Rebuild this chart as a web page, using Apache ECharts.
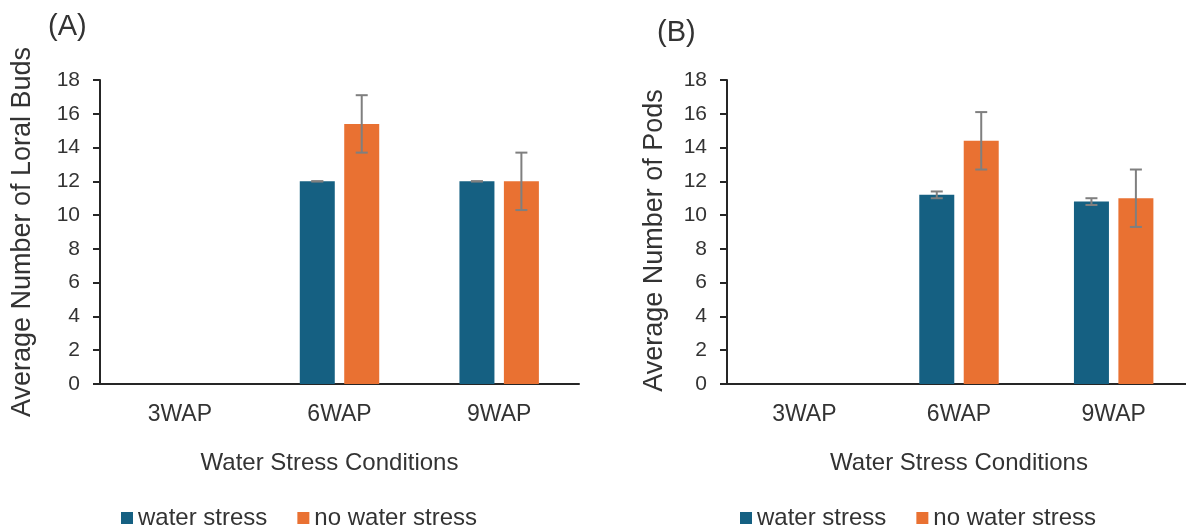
<!DOCTYPE html>
<html>
<head>
<meta charset="utf-8">
<script src="https://cdn.jsdelivr.net/npm/echarts@6/dist/echarts.min.js"></script>
<style>
html,body{margin:0;padding:0;background:#fff;}
#c{width:1186px;height:529px;}
</style>
</head>
<body>
<div id="c"></div>
<script>
// ---- data ----
const categories = ['3WAP', '6WAP', '9WAP'];
const seriesNames = ['water stress', 'no water stress'];
// Panel A: Average Number of Loral Buds
const budsStress = [0, 12, 12];
const budsStressErr = [0, 0, 0];
const budsNoStress = [0, 15.4, 12];
const budsNoStressErr = [0, 1.7, 1.7];
// Panel B: Average Number of Pods
const podsStress = [0, 11.2, 10.8];
const podsStressErr = [0, 0.2, 0.2];
const podsNoStress = [0, 14.4, 11.0];
const podsNoStressErr = [0, 1.7, 1.7];
const yMin = 0, yMax = 18, yInterval = 2;

// ---- style ----
const FONT = '"Liberation Sans", Arial, sans-serif';
const TXT = '#333333';
const AX = '#262626';
const BLUE = '#156082';
const ORANGE = '#E97132';
const ERR = '#7f7f7f';
const BAR_W = 35;
const BAR_GAP = 0.27;
const OFFSET = (BAR_W + BAR_W * BAR_GAP) / 2;

function errRenderer(offset) {
  return function (params, api) {
    const xi = api.value(0), v = api.value(1), e = api.value(2);
    if (!v && !e) return;
    const x = api.coord([xi, v])[0] + offset;
    const top = api.coord([xi, v + e])[1];
    const bot = api.coord([xi, v - e])[1];
    const hw = 6;
    const style = { stroke: ERR, lineWidth: 2 };
    return {
      type: 'group',
      children: [
        { type: 'line', shape: { x1: x, y1: top, x2: x, y2: bot }, style },
        { type: 'line', shape: { x1: x - hw, y1: top, x2: x + hw, y2: top }, style },
        { type: 'line', shape: { x1: x - hw, y1: bot, x2: x + hw, y2: bot }, style }
      ]
    };
  };
}
function errData(vals, errs) { return vals.map((v, i) => [i, v, errs[i]]); }

function xAxisCfg(gi, padRight) {
  return {
    type: 'category', gridIndex: gi, data: categories,
    axisLine: { lineStyle: { color: AX, width: 2 } },
    axisTick: { alignWithLabel: true, length: 6, lineStyle: { color: AX, width: 2 } },
    axisLabel: { fontSize: 23, color: TXT, fontFamily: FONT, margin: 19, interval: 0 },
    name: 'Water Stress Conditions', nameLocation: 'middle', nameGap: 67,
    nameTextStyle: { fontSize: 24, color: TXT, fontFamily: FONT, padding: [0, padRight, 0, 0] }
  };
}
function yAxisCfg(gi, name, gap, padRight) {
  return {
    type: 'value', gridIndex: gi, min: yMin, max: yMax, interval: yInterval,
    splitLine: { show: false },
    axisLine: { show: true, lineStyle: { color: AX, width: 2 } },
    axisTick: { show: true, length: 7, lineStyle: { color: AX, width: 2 } },
    axisLabel: { fontSize: 21, color: TXT, fontFamily: FONT, margin: 20 },
    name: name, nameLocation: 'middle', nameGap: gap, nameRotate: 90, nameMoveOverlap: false,
    nameTextStyle: { fontSize: 27, color: TXT, fontFamily: FONT, padding: [0, padRight, 0, 0] }
  };
}
function barSeries(name, gi, data, color) {
  return {
    type: 'bar', name, xAxisIndex: gi, yAxisIndex: gi, data,
    barWidth: BAR_W, barGap: (BAR_GAP * 100) + '%',
    itemStyle: { color }, animation: false
  };
}
function errSeries(gi, vals, errs, offset) {
  return {
    type: 'custom', name: 'err' + gi + offset, xAxisIndex: gi, yAxisIndex: gi,
    data: errData(vals, errs), renderItem: errRenderer(offset), z: 5,
    encode: { x: 0, y: 1 }, animation: false, silent: true
  };
}

const legendBase = {
  data: seriesNames, orient: 'horizontal', top: 506, padding: 0,
  icon: 'rect', itemWidth: 12, itemHeight: 12, itemGap: 30,
  textStyle: { fontSize: 24, color: TXT, fontFamily: FONT }
};

const option = {
  backgroundColor: '#ffffff',
  animation: false,
  textStyle: { fontFamily: FONT },
  title: [
    { text: '(A)', left: 48, top: 12, padding: 0, textStyle: { fontSize: 29, fontWeight: 'normal', color: TXT, fontFamily: FONT } },
    { text: '(B)', left: 657, top: 18, padding: 0, textStyle: { fontSize: 29, fontWeight: 'normal', color: TXT, fontFamily: FONT } }
  ],
  legend: [
    Object.assign({ left: 121 }, legendBase),
    Object.assign({ left: 740 }, legendBase)
  ],
  grid: [
    { left: 100, right: 607, top: 80, bottom: 145, outerBoundsMode: 'none', containLabel: false },
    { left: 727, right: -5, top: 80, bottom: 145, outerBoundsMode: 'none', containLabel: false }
  ],
  xAxis: [xAxisCfg(0, 20), xAxisCfg(1, 0)],
  yAxis: [
    yAxisCfg(0, 'Average Number of Loral Buds', 64, 0),
    yAxisCfg(1, 'Average Number of Pods', 59, 17)
  ],
  series: [
    barSeries(seriesNames[0], 0, budsStress, BLUE),
    barSeries(seriesNames[1], 0, budsNoStress, ORANGE),
    barSeries(seriesNames[0], 1, podsStress, BLUE),
    barSeries(seriesNames[1], 1, podsNoStress, ORANGE),
    errSeries(0, budsStress, budsStressErr, -OFFSET),
    errSeries(0, budsNoStress, budsNoStressErr, OFFSET),
    errSeries(1, podsStress, podsStressErr, -OFFSET),
    errSeries(1, podsNoStress, podsNoStressErr, OFFSET)
  ]
};

const chart = echarts.init(document.getElementById('c'), null, { renderer: 'canvas' });
chart.setOption(option);
</script>
</body>
</html>
